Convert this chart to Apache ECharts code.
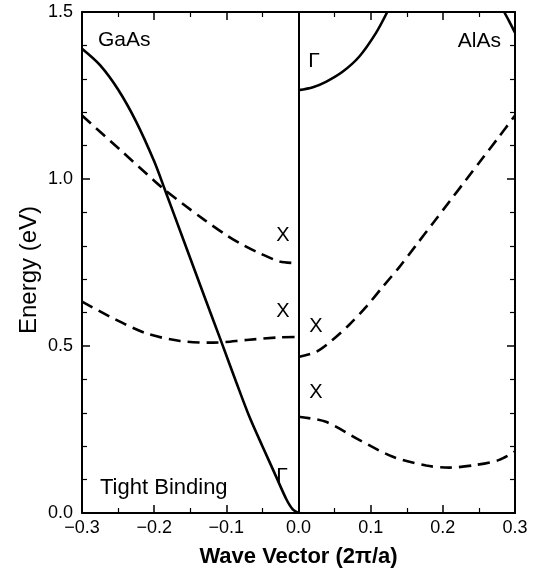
<!DOCTYPE html>
<html>
<head>
<meta charset="utf-8">
<script src="https://cdn.jsdelivr.net/npm/echarts@6/dist/echarts.min.js"></script>
<style>
html,body{margin:0;padding:0;background:#fff;}
#chart{width:536px;height:575px;}
</style>
</head>
<body>
<div id="chart"></div>
<script>
// Wave vector (2π/a) / energy (eV) pairs
const gaasGamma = [[-0.3,1.39],[-0.275,1.341],[-0.25,1.268],[-0.225,1.172],[-0.2,1.053],[-0.185,0.967],[-0.16,0.821],[-0.13,0.646],[-0.107,0.513],[-0.086,0.39],[-0.068,0.288],[-0.05,0.2],[-0.031,0.109],[-0.017,0.042],[-0.008,0.011],[0,0]];
const gaasXUpper = [[-0.3,1.19],[-0.247,1.087],[-0.2,0.995],[-0.185,0.967],[-0.16,0.925],[-0.13,0.877],[-0.1,0.832],[-0.075,0.8],[-0.054,0.778],[-0.026,0.753],[0,0.748]];
const gaasXLower = [[-0.3,0.633],[-0.257,0.583],[-0.211,0.538],[-0.164,0.515],[-0.118,0.51],[-0.072,0.518],[-0.026,0.526],[0,0.527]];
const alasGamma = [[0,1.266],[0.02,1.275],[0.038,1.291],[0.061,1.321],[0.084,1.366],[0.107,1.436],[0.123,1.5]];
const alasUpperRight = [[0.285,1.5],[0.292,1.472],[0.3,1.438]];
const alasXUpper = [[0,0.467],[0.025,0.483],[0.047,0.518],[0.07,0.563],[0.094,0.618],[0.117,0.678],[0.14,0.737],[0.163,0.802],[0.186,0.867],[0.209,0.932],[0.232,0.997],[0.255,1.062],[0.278,1.127],[0.3,1.19]];
const alasXLower = [[0,0.288],[0.038,0.273],[0.084,0.219],[0.13,0.169],[0.177,0.142],[0.209,0.136],[0.246,0.144],[0.278,0.159],[0.3,0.184]];
const xTicks = [-0.3,-0.2,-0.1,0.0,0.1,0.2,0.3];
const yTicks = [0.0,0.5,1.0,1.5];

const FONT = 'Liberation Sans';
const chart = echarts.init(document.getElementById('chart'), null, {renderer:'canvas'});

function xAx(pos, showLabel){
  return {
    type:'value', position:pos, min:-0.3, max:0.3, interval:0.1,
    axisLine:{show:true, onZero:false, lineStyle:{color:'#000', width:2}},
    axisTick:{show:true, inside:true, length:8, lineStyle:{color:'#000', width:1.5}},
    minorTick:{show:true, splitNumber:2, length:5, lineStyle:{color:'#000', width:1.2}},
    splitLine:{show:false},
    axisLabel:{show:showLabel, margin:6, fontFamily:FONT, fontSize:18, color:'#000',
      formatter:v=>{ const n = xTicks.reduce((a,b)=>Math.abs(b-v)<Math.abs(a-v)?b:a); return n.toFixed(1).replace('-','\u2212'); }},
    name: showLabel ? 'Wave Vector (2\u03c0/a)' : '',
    nameLocation:'middle', nameGap:33,
    nameTextStyle:{fontFamily:FONT, fontSize:22, fontWeight:'bold', color:'#000'}
  };
}
function yAx(pos, showLabel){
  return {
    type:'value', position:pos, min:0, max:1.5, interval:0.5,
    axisLine:{show:true, onZero:false, lineStyle:{color:'#000', width:2}},
    axisTick:{show:true, inside:true, length:8, lineStyle:{color:'#000', width:1.5}},
    minorTick:{show:true, splitNumber:5, length:5, lineStyle:{color:'#000', width:1.2}},
    splitLine:{show:false},
    axisLabel:{show:showLabel, margin:9, fontFamily:FONT, fontSize:18, color:'#000',
      formatter:v=>{ const n = yTicks.reduce((a,b)=>Math.abs(b-v)<Math.abs(a-v)?b:a); return n.toFixed(1); }}
  };
}

function band(data, dashed){
  return {
    type:'line', data:data, xAxisIndex:0, yAxisIndex:0,
    showSymbol:false, symbol:'none', smooth:0.3, clip:true,
    lineStyle:{color:'#000', width:2.6, type: dashed ? [12,7] : 'solid'},
    silent:true, animation:false
  };
}

const series = [
  band(gaasGamma,false),
  band(gaasXUpper,true),
  band(gaasXLower,true),
  band(alasGamma,false),
  band(alasUpperRight,false),
  band(alasXUpper,true),
  band(alasXLower,true)
];
series[0].markLine = {
  silent:true, symbol:['none','none'], label:{show:false},
  lineStyle:{color:'#000', width:2, type:'solid'},
  data:[{xAxis:0}], animation:false
};

function txt(x, y, s, size, align, extra){
  return Object.assign({type:'text', x:x, y:y, silent:true,
    style:{text:s, fill:'#000', font: size+'px "'+FONT+'"', textAlign:align||'left', textVerticalAlign:'middle'}}, extra||{});
}

chart.setOption({
  animation:false,
  backgroundColor:'#fff',
  grid:{left:82, right:21, top:12, bottom:62, containLabel:false},
  xAxis:[xAx('bottom',true), xAx('top',false)],
  yAxis:[yAx('left',true), yAx('right',false)],
  series: series,
  graphic:[
    txt(29, 270, 'Energy (eV)', 24, 'center', {rotation:Math.PI/2}),
    txt(98, 40, 'GaAs', 21),
    txt(501, 41, 'AlAs', 21, 'right'),
    txt(100, 488, 'Tight Binding', 22),
    txt(282, 476, '\u0393', 21, 'center'),
    txt(314, 61, '\u0393', 21, 'center'),
    txt(283, 235, 'X', 20, 'center'),
    txt(283, 311, 'X', 20, 'center'),
    txt(316, 326, 'X', 20, 'center'),
    txt(316, 392, 'X', 20, 'center')
  ]
});
</script>
</body>
</html>
